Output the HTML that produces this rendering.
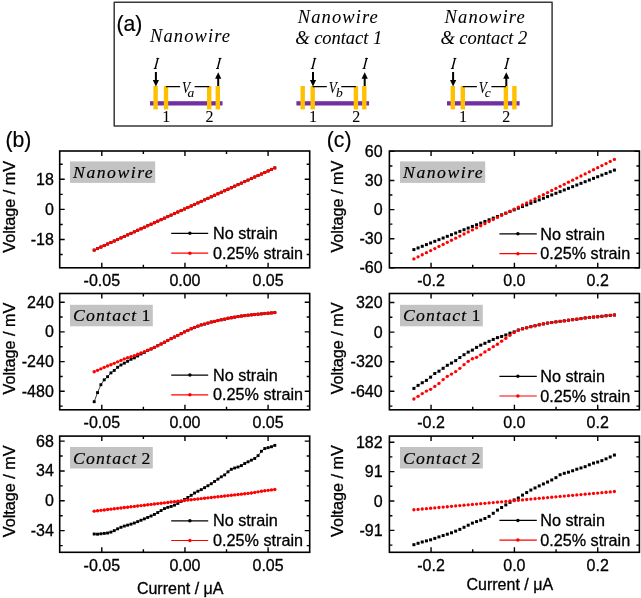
<!DOCTYPE html>
<html><head><meta charset="utf-8"><style>
html,body{margin:0;padding:0;background:#fff;}
body{width:641px;height:598px;overflow:hidden;}
svg{display:block;will-change:transform;}
text{fill:#000;stroke:#000;stroke-width:0.3px;}
text.d{stroke-width:0.05px;}
text.g{stroke-width:0.18px;}
</style></head><body>
<svg width="641" height="598" viewBox="0 0 641 598">
<rect width="641" height="598" fill="#fff"/>
<rect x="114.2" y="2.3" width="437.9" height="123.8" fill="none" stroke="#383838" stroke-width="1.5" stroke-linejoin="round"/>
<text class="g" x="116.4" y="31.0" font-family='"Liberation Sans", sans-serif' font-size="21.2">(a)</text>
<rect x="150" y="101.2" width="72.5" height="4.3" fill="#7030a0"/>
<rect x="153.4" y="86" width="4.4" height="23.4" fill="#ffc000"/>
<rect x="163.8" y="86" width="4.4" height="23.4" fill="#ffc000"/>
<rect x="207.0" y="86" width="4.4" height="23.4" fill="#ffc000"/>
<rect x="215.6" y="86" width="4.4" height="23.4" fill="#ffc000"/>
<path d="M166.0,86.6H180.1M194.6,86.6H209.2" stroke="#000" stroke-width="1.2" fill="none"/>
<text class="d" transform="translate(182.00,93.0) scale(0.8,1)" font-family='"Liberation Serif", serif' font-style="italic" font-size="16.5">V</text>
<text class="d" x="187.60" y="96.6" font-family='"Liberation Serif", serif' font-style="italic" font-size="13.5">a</text>
<path d="M155.9,72V81" stroke="#000" stroke-width="2"/>
<path d="M152.8,79.9L159.0,79.9L155.9,86.4Z" fill="#000"/>
<path d="M218.2,86V77" stroke="#000" stroke-width="2"/>
<path d="M215.1,78.8L221.3,78.8L218.2,72.3Z" fill="#000"/>
<path d="M157.95,58.0L155.15,68.9" stroke="#000" stroke-width="1.45" fill="none"/>
<path d="M156.30,58.45H159.20M153.70,68.45H156.70" stroke="#000" stroke-width="0.9" fill="none"/>
<path d="M220.25,58.0L217.45,68.9" stroke="#000" stroke-width="1.45" fill="none"/>
<path d="M218.60,58.45H221.50M216.00,68.45H219.00" stroke="#000" stroke-width="0.9" fill="none"/>
<text class="d" x="166.3" y="122.3" text-anchor="middle" font-family='"Liberation Serif", serif' font-size="16">1</text>
<text class="d" x="209.5" y="122.3" text-anchor="middle" font-family='"Liberation Serif", serif' font-size="16">2</text>
<rect x="296.4" y="101.2" width="72.7" height="4.3" fill="#7030a0"/>
<rect x="300.5" y="86" width="4.4" height="23.4" fill="#ffc000"/>
<rect x="310.5" y="86" width="4.4" height="23.4" fill="#ffc000"/>
<rect x="353.7" y="86" width="4.4" height="23.4" fill="#ffc000"/>
<rect x="362.1" y="86" width="4.4" height="23.4" fill="#ffc000"/>
<path d="M312.7,86.6H326.8M341.3,86.6H355.9" stroke="#000" stroke-width="1.2" fill="none"/>
<text class="d" transform="translate(328.70,93.0) scale(0.8,1)" font-family='"Liberation Serif", serif' font-style="italic" font-size="16.5">V</text>
<text class="d" x="335.90" y="96.6" font-family='"Liberation Serif", serif' font-style="italic" font-size="13.5">b</text>
<path d="M313.0,72V81" stroke="#000" stroke-width="2"/>
<path d="M309.9,79.9L316.1,79.9L313.0,86.4Z" fill="#000"/>
<path d="M364.7,86V77" stroke="#000" stroke-width="2"/>
<path d="M361.6,78.8L367.8,78.8L364.7,72.3Z" fill="#000"/>
<path d="M315.05,58.0L312.25,68.9" stroke="#000" stroke-width="1.45" fill="none"/>
<path d="M313.40,58.45H316.30M310.80,68.45H313.80" stroke="#000" stroke-width="0.9" fill="none"/>
<path d="M366.75,58.0L363.95,68.9" stroke="#000" stroke-width="1.45" fill="none"/>
<path d="M365.10,58.45H368.00M362.50,68.45H365.50" stroke="#000" stroke-width="0.9" fill="none"/>
<text class="d" x="313.0" y="122.3" text-anchor="middle" font-family='"Liberation Serif", serif' font-size="16">1</text>
<text class="d" x="356.2" y="122.3" text-anchor="middle" font-family='"Liberation Serif", serif' font-size="16">2</text>
<rect x="447" y="101.2" width="72.6" height="4.3" fill="#7030a0"/>
<rect x="450.6" y="86" width="4.4" height="23.4" fill="#ffc000"/>
<rect x="460.6" y="86" width="4.4" height="23.4" fill="#ffc000"/>
<rect x="503.7" y="86" width="4.4" height="23.4" fill="#ffc000"/>
<rect x="512.2" y="86" width="4.4" height="23.4" fill="#ffc000"/>
<path d="M462.8,86.6H476.9M491.4,86.6H505.9" stroke="#000" stroke-width="1.2" fill="none"/>
<text class="d" transform="translate(478.75,93.0) scale(0.8,1)" font-family='"Liberation Serif", serif' font-style="italic" font-size="16.5">V</text>
<text class="d" x="484.75" y="96.6" font-family='"Liberation Serif", serif' font-style="italic" font-size="13.5">c</text>
<path d="M453.1,72V81" stroke="#000" stroke-width="2"/>
<path d="M450.0,79.9L456.2,79.9L453.1,86.4Z" fill="#000"/>
<path d="M506.3,86V77" stroke="#000" stroke-width="2"/>
<path d="M503.2,78.8L509.4,78.8L506.3,72.3Z" fill="#000"/>
<path d="M455.15,58.0L452.35,68.9" stroke="#000" stroke-width="1.45" fill="none"/>
<path d="M453.50,58.45H456.40M450.90,68.45H453.90" stroke="#000" stroke-width="0.9" fill="none"/>
<path d="M508.35,58.0L505.55,68.9" stroke="#000" stroke-width="1.45" fill="none"/>
<path d="M506.70,58.45H509.60M504.10,68.45H507.10" stroke="#000" stroke-width="0.9" fill="none"/>
<text class="d" x="463.1" y="122.3" text-anchor="middle" font-family='"Liberation Serif", serif' font-size="16">1</text>
<text class="d" x="506.2" y="122.3" text-anchor="middle" font-family='"Liberation Serif", serif' font-size="16">2</text>
<text class="d" x="150.0" y="41.5" text-anchor="start" font-family='"Liberation Serif", serif' font-style="italic" font-size="18.5" letter-spacing="1.1">Nanowire</text>
<text class="d" x="297.8" y="23.0" text-anchor="start" font-family='"Liberation Serif", serif' font-style="italic" font-size="18.5" letter-spacing="1.1">Nanowire</text>
<text class="d" x="295.3" y="44.1" text-anchor="start" font-family='"Liberation Serif", serif' font-style="italic" font-size="18.5" letter-spacing="-0.05">&amp; contact 1</text>
<text class="d" x="444.6" y="23.0" text-anchor="start" font-family='"Liberation Serif", serif' font-style="italic" font-size="18.5" letter-spacing="1.1">Nanowire</text>
<text class="d" x="440.4" y="44.1" text-anchor="start" font-family='"Liberation Serif", serif' font-style="italic" font-size="18.5" letter-spacing="-0.05">&amp; contact 2</text>
<text class="g" x="5.4" y="146.6" font-family='"Liberation Sans", sans-serif' font-size="21.2">(b)</text>
<text class="g" x="326.8" y="146.6" font-family='"Liberation Sans", sans-serif' font-size="21.2">(c)</text>
<text x="180.2" y="593.8" text-anchor="middle" font-family='"Liberation Sans", sans-serif' font-size="16">Current / μA</text>
<text x="509.8" y="590.4" text-anchor="middle" font-family='"Liberation Sans", sans-serif' font-size="16">Current / μA</text>
<rect x="70.0" y="161.4" width="85.2" height="21.5" fill="#c3c3c3"/>
<text class="g" x="73.1" y="178.2" font-family='"Liberation Serif", serif' font-style="italic" font-size="17.7" letter-spacing="1.5" fill="#000">Nanowire</text>
<polyline points="94.20,250.10 97.54,248.58 100.89,247.06 104.23,245.53 107.58,244.01 110.92,242.49 114.27,240.97 117.61,239.44 120.96,237.92 124.30,236.40 127.64,234.88 130.99,233.36 134.33,231.83 137.68,230.31 141.02,228.79 144.37,227.27 147.71,225.74 151.06,224.22 154.40,222.70 157.74,221.18 161.09,219.66 164.43,218.13 167.78,216.61 171.12,215.09 174.47,213.57 177.81,212.04 181.16,210.52 184.50,209.00 187.84,207.48 191.19,205.96 194.53,204.43 197.88,202.91 201.22,201.39 204.57,199.87 207.91,198.34 211.26,196.82 214.60,195.30 217.94,193.78 221.29,192.26 224.63,190.73 227.98,189.21 231.32,187.69 234.67,186.17 238.01,184.64 241.36,183.12 244.70,181.60 248.04,180.08 251.39,178.56 254.73,177.03 258.08,175.51 261.42,173.99 264.77,172.47 268.11,170.94 271.46,169.42 274.80,167.90" fill="none" stroke="#000" stroke-width="0.75"/>
<rect x="92.75" y="248.65" width="2.9" height="2.9" fill="#000"/>
<rect x="96.09" y="247.13" width="2.9" height="2.9" fill="#000"/>
<rect x="99.44" y="245.61" width="2.9" height="2.9" fill="#000"/>
<rect x="102.78" y="244.08" width="2.9" height="2.9" fill="#000"/>
<rect x="106.13" y="242.56" width="2.9" height="2.9" fill="#000"/>
<rect x="109.47" y="241.04" width="2.9" height="2.9" fill="#000"/>
<rect x="112.82" y="239.52" width="2.9" height="2.9" fill="#000"/>
<rect x="116.16" y="237.99" width="2.9" height="2.9" fill="#000"/>
<rect x="119.51" y="236.47" width="2.9" height="2.9" fill="#000"/>
<rect x="122.85" y="234.95" width="2.9" height="2.9" fill="#000"/>
<rect x="126.19" y="233.43" width="2.9" height="2.9" fill="#000"/>
<rect x="129.54" y="231.91" width="2.9" height="2.9" fill="#000"/>
<rect x="132.88" y="230.38" width="2.9" height="2.9" fill="#000"/>
<rect x="136.23" y="228.86" width="2.9" height="2.9" fill="#000"/>
<rect x="139.57" y="227.34" width="2.9" height="2.9" fill="#000"/>
<rect x="142.92" y="225.82" width="2.9" height="2.9" fill="#000"/>
<rect x="146.26" y="224.29" width="2.9" height="2.9" fill="#000"/>
<rect x="149.61" y="222.77" width="2.9" height="2.9" fill="#000"/>
<rect x="152.95" y="221.25" width="2.9" height="2.9" fill="#000"/>
<rect x="156.29" y="219.73" width="2.9" height="2.9" fill="#000"/>
<rect x="159.64" y="218.21" width="2.9" height="2.9" fill="#000"/>
<rect x="162.98" y="216.68" width="2.9" height="2.9" fill="#000"/>
<rect x="166.33" y="215.16" width="2.9" height="2.9" fill="#000"/>
<rect x="169.67" y="213.64" width="2.9" height="2.9" fill="#000"/>
<rect x="173.02" y="212.12" width="2.9" height="2.9" fill="#000"/>
<rect x="176.36" y="210.59" width="2.9" height="2.9" fill="#000"/>
<rect x="179.71" y="209.07" width="2.9" height="2.9" fill="#000"/>
<rect x="183.05" y="207.55" width="2.9" height="2.9" fill="#000"/>
<rect x="186.39" y="206.03" width="2.9" height="2.9" fill="#000"/>
<rect x="189.74" y="204.51" width="2.9" height="2.9" fill="#000"/>
<rect x="193.08" y="202.98" width="2.9" height="2.9" fill="#000"/>
<rect x="196.43" y="201.46" width="2.9" height="2.9" fill="#000"/>
<rect x="199.77" y="199.94" width="2.9" height="2.9" fill="#000"/>
<rect x="203.12" y="198.42" width="2.9" height="2.9" fill="#000"/>
<rect x="206.46" y="196.89" width="2.9" height="2.9" fill="#000"/>
<rect x="209.81" y="195.37" width="2.9" height="2.9" fill="#000"/>
<rect x="213.15" y="193.85" width="2.9" height="2.9" fill="#000"/>
<rect x="216.49" y="192.33" width="2.9" height="2.9" fill="#000"/>
<rect x="219.84" y="190.81" width="2.9" height="2.9" fill="#000"/>
<rect x="223.18" y="189.28" width="2.9" height="2.9" fill="#000"/>
<rect x="226.53" y="187.76" width="2.9" height="2.9" fill="#000"/>
<rect x="229.87" y="186.24" width="2.9" height="2.9" fill="#000"/>
<rect x="233.22" y="184.72" width="2.9" height="2.9" fill="#000"/>
<rect x="236.56" y="183.19" width="2.9" height="2.9" fill="#000"/>
<rect x="239.91" y="181.67" width="2.9" height="2.9" fill="#000"/>
<rect x="243.25" y="180.15" width="2.9" height="2.9" fill="#000"/>
<rect x="246.59" y="178.63" width="2.9" height="2.9" fill="#000"/>
<rect x="249.94" y="177.11" width="2.9" height="2.9" fill="#000"/>
<rect x="253.28" y="175.58" width="2.9" height="2.9" fill="#000"/>
<rect x="256.63" y="174.06" width="2.9" height="2.9" fill="#000"/>
<rect x="259.97" y="172.54" width="2.9" height="2.9" fill="#000"/>
<rect x="263.32" y="171.02" width="2.9" height="2.9" fill="#000"/>
<rect x="266.66" y="169.49" width="2.9" height="2.9" fill="#000"/>
<rect x="270.01" y="167.97" width="2.9" height="2.9" fill="#000"/>
<rect x="273.35" y="166.45" width="2.9" height="2.9" fill="#000"/>
<polyline points="94.20,250.10 97.54,248.58 100.89,247.06 104.23,245.53 107.58,244.01 110.92,242.49 114.27,240.97 117.61,239.44 120.96,237.92 124.30,236.40 127.64,234.88 130.99,233.36 134.33,231.83 137.68,230.31 141.02,228.79 144.37,227.27 147.71,225.74 151.06,224.22 154.40,222.70 157.74,221.18 161.09,219.66 164.43,218.13 167.78,216.61 171.12,215.09 174.47,213.57 177.81,212.04 181.16,210.52 184.50,209.00 187.84,207.48 191.19,205.96 194.53,204.43 197.88,202.91 201.22,201.39 204.57,199.87 207.91,198.34 211.26,196.82 214.60,195.30 217.94,193.78 221.29,192.26 224.63,190.73 227.98,189.21 231.32,187.69 234.67,186.17 238.01,184.64 241.36,183.12 244.70,181.60 248.04,180.08 251.39,178.56 254.73,177.03 258.08,175.51 261.42,173.99 264.77,172.47 268.11,170.94 271.46,169.42 274.80,167.90" fill="none" stroke="#f00" stroke-width="0.75"/>
<circle cx="94.20" cy="250.10" r="1.7" fill="#f00"/>
<circle cx="97.54" cy="248.58" r="1.7" fill="#f00"/>
<circle cx="100.89" cy="247.06" r="1.7" fill="#f00"/>
<circle cx="104.23" cy="245.53" r="1.7" fill="#f00"/>
<circle cx="107.58" cy="244.01" r="1.7" fill="#f00"/>
<circle cx="110.92" cy="242.49" r="1.7" fill="#f00"/>
<circle cx="114.27" cy="240.97" r="1.7" fill="#f00"/>
<circle cx="117.61" cy="239.44" r="1.7" fill="#f00"/>
<circle cx="120.96" cy="237.92" r="1.7" fill="#f00"/>
<circle cx="124.30" cy="236.40" r="1.7" fill="#f00"/>
<circle cx="127.64" cy="234.88" r="1.7" fill="#f00"/>
<circle cx="130.99" cy="233.36" r="1.7" fill="#f00"/>
<circle cx="134.33" cy="231.83" r="1.7" fill="#f00"/>
<circle cx="137.68" cy="230.31" r="1.7" fill="#f00"/>
<circle cx="141.02" cy="228.79" r="1.7" fill="#f00"/>
<circle cx="144.37" cy="227.27" r="1.7" fill="#f00"/>
<circle cx="147.71" cy="225.74" r="1.7" fill="#f00"/>
<circle cx="151.06" cy="224.22" r="1.7" fill="#f00"/>
<circle cx="154.40" cy="222.70" r="1.7" fill="#f00"/>
<circle cx="157.74" cy="221.18" r="1.7" fill="#f00"/>
<circle cx="161.09" cy="219.66" r="1.7" fill="#f00"/>
<circle cx="164.43" cy="218.13" r="1.7" fill="#f00"/>
<circle cx="167.78" cy="216.61" r="1.7" fill="#f00"/>
<circle cx="171.12" cy="215.09" r="1.7" fill="#f00"/>
<circle cx="174.47" cy="213.57" r="1.7" fill="#f00"/>
<circle cx="177.81" cy="212.04" r="1.7" fill="#f00"/>
<circle cx="181.16" cy="210.52" r="1.7" fill="#f00"/>
<circle cx="184.50" cy="209.00" r="1.7" fill="#f00"/>
<circle cx="187.84" cy="207.48" r="1.7" fill="#f00"/>
<circle cx="191.19" cy="205.96" r="1.7" fill="#f00"/>
<circle cx="194.53" cy="204.43" r="1.7" fill="#f00"/>
<circle cx="197.88" cy="202.91" r="1.7" fill="#f00"/>
<circle cx="201.22" cy="201.39" r="1.7" fill="#f00"/>
<circle cx="204.57" cy="199.87" r="1.7" fill="#f00"/>
<circle cx="207.91" cy="198.34" r="1.7" fill="#f00"/>
<circle cx="211.26" cy="196.82" r="1.7" fill="#f00"/>
<circle cx="214.60" cy="195.30" r="1.7" fill="#f00"/>
<circle cx="217.94" cy="193.78" r="1.7" fill="#f00"/>
<circle cx="221.29" cy="192.26" r="1.7" fill="#f00"/>
<circle cx="224.63" cy="190.73" r="1.7" fill="#f00"/>
<circle cx="227.98" cy="189.21" r="1.7" fill="#f00"/>
<circle cx="231.32" cy="187.69" r="1.7" fill="#f00"/>
<circle cx="234.67" cy="186.17" r="1.7" fill="#f00"/>
<circle cx="238.01" cy="184.64" r="1.7" fill="#f00"/>
<circle cx="241.36" cy="183.12" r="1.7" fill="#f00"/>
<circle cx="244.70" cy="181.60" r="1.7" fill="#f00"/>
<circle cx="248.04" cy="180.08" r="1.7" fill="#f00"/>
<circle cx="251.39" cy="178.56" r="1.7" fill="#f00"/>
<circle cx="254.73" cy="177.03" r="1.7" fill="#f00"/>
<circle cx="258.08" cy="175.51" r="1.7" fill="#f00"/>
<circle cx="261.42" cy="173.99" r="1.7" fill="#f00"/>
<circle cx="264.77" cy="172.47" r="1.7" fill="#f00"/>
<circle cx="268.11" cy="170.94" r="1.7" fill="#f00"/>
<circle cx="271.46" cy="169.42" r="1.7" fill="#f00"/>
<circle cx="274.80" cy="167.90" r="1.7" fill="#f00"/>
<line x1="171.2" y1="233.3" x2="208.2" y2="233.3" stroke="#000" stroke-width="1.2"/>
<circle cx="189.9" cy="233.3" r="1.75" fill="#000"/>
<text x="213.0" y="239.40" font-family='"Liberation Sans", sans-serif' font-size="16.2" fill="#000">No strain</text>
<line x1="171.2" y1="253.2" x2="208.2" y2="253.2" stroke="#f00" stroke-width="1.2"/>
<circle cx="189.9" cy="253.2" r="1.75" fill="#f00"/>
<text x="213.0" y="259.10" font-family='"Liberation Sans", sans-serif' font-size="16.2" fill="#000">0.25% strain</text>
<path d="M101.80,151.0v5M101.80,267.8v-5M184.95,151.0v5M184.95,267.8v-5M268.10,151.0v5M268.10,267.8v-5M143.38,151.0v3M143.38,267.8v-3M226.52,151.0v3M226.52,267.8v-3M59.7,239.50h5M309.7,239.50h-5M59.7,209.40h5M309.7,209.40h-5M59.7,179.30h5M309.7,179.30h-5M59.7,254.55h3M309.7,254.55h-3M59.7,224.45h3M309.7,224.45h-3M59.7,194.35h3M309.7,194.35h-3M59.7,164.25h3M309.7,164.25h-3" stroke="#000" stroke-width="1.4" fill="none"/>
<rect x="59.7" y="151.0" width="250.0" height="116.8" fill="none" stroke="#000" stroke-width="1.6"/>
<text x="101.80" y="286.2" text-anchor="middle" font-family='"Liberation Sans", sans-serif' font-size="16">-0.05</text>
<text x="184.95" y="286.2" text-anchor="middle" font-family='"Liberation Sans", sans-serif' font-size="16">0.00</text>
<text x="268.10" y="286.2" text-anchor="middle" font-family='"Liberation Sans", sans-serif' font-size="16">0.05</text>
<text x="53.8" y="245.00" text-anchor="end" font-family='"Liberation Sans", sans-serif' font-size="16">-18</text>
<text x="53.8" y="214.90" text-anchor="end" font-family='"Liberation Sans", sans-serif' font-size="16">0</text>
<text x="53.8" y="184.80" text-anchor="end" font-family='"Liberation Sans", sans-serif' font-size="16">18</text>
<text transform="translate(15.1,206.8) rotate(-90)" text-anchor="middle" font-family='"Liberation Sans", sans-serif' font-size="16.2">Voltage / mV</text>
<rect x="70.0" y="304.8" width="82.8" height="21.5" fill="#c3c3c3"/>
<text class="g" x="73.0" y="321.3" font-family='"Liberation Serif", serif' font-size="17.7" fill="#000"><tspan font-style="italic" letter-spacing="1.2">Contact</tspan><tspan dx="4.2">1</tspan></text>
<polyline points="94.20,401.70 97.54,392.60 100.89,384.70 104.23,379.83 107.58,376.70 110.92,372.90 114.27,370.41 117.61,367.28 120.96,364.99 124.30,363.16 127.64,361.30 130.99,359.29 134.33,357.87 137.68,355.98 141.02,354.01 144.37,352.36 147.71,350.41 151.06,348.96 154.40,347.35 157.74,345.73 161.09,343.98 164.43,342.23 167.78,340.44 171.12,338.64 174.47,337.04 177.81,335.44 181.16,333.67 184.50,331.90 187.84,330.38 191.19,328.77 194.53,327.55 197.88,326.17 201.22,324.89 204.57,324.11 207.91,323.10 211.26,321.99 214.60,321.38 217.94,320.57 221.29,319.78 224.63,319.19 227.98,318.31 231.32,317.73 234.67,317.16 238.01,316.59 241.36,316.05 244.70,315.65 248.04,315.25 251.39,314.86 254.73,314.53 258.08,314.20 261.42,313.87 264.77,313.55 268.11,313.23 271.46,312.92 274.80,312.60" fill="none" stroke="#000" stroke-width="0.75"/>
<rect x="92.75" y="400.25" width="2.9" height="2.9" fill="#000"/>
<rect x="96.09" y="391.15" width="2.9" height="2.9" fill="#000"/>
<rect x="99.44" y="383.25" width="2.9" height="2.9" fill="#000"/>
<rect x="102.78" y="378.38" width="2.9" height="2.9" fill="#000"/>
<rect x="106.13" y="375.25" width="2.9" height="2.9" fill="#000"/>
<rect x="109.47" y="371.45" width="2.9" height="2.9" fill="#000"/>
<rect x="112.82" y="368.96" width="2.9" height="2.9" fill="#000"/>
<rect x="116.16" y="365.83" width="2.9" height="2.9" fill="#000"/>
<rect x="119.51" y="363.54" width="2.9" height="2.9" fill="#000"/>
<rect x="122.85" y="361.71" width="2.9" height="2.9" fill="#000"/>
<rect x="126.19" y="359.85" width="2.9" height="2.9" fill="#000"/>
<rect x="129.54" y="357.84" width="2.9" height="2.9" fill="#000"/>
<rect x="132.88" y="356.42" width="2.9" height="2.9" fill="#000"/>
<rect x="136.23" y="354.53" width="2.9" height="2.9" fill="#000"/>
<rect x="139.57" y="352.56" width="2.9" height="2.9" fill="#000"/>
<rect x="142.92" y="350.91" width="2.9" height="2.9" fill="#000"/>
<rect x="146.26" y="348.96" width="2.9" height="2.9" fill="#000"/>
<rect x="149.61" y="347.51" width="2.9" height="2.9" fill="#000"/>
<rect x="152.95" y="345.90" width="2.9" height="2.9" fill="#000"/>
<rect x="156.29" y="344.28" width="2.9" height="2.9" fill="#000"/>
<rect x="159.64" y="342.53" width="2.9" height="2.9" fill="#000"/>
<rect x="162.98" y="340.78" width="2.9" height="2.9" fill="#000"/>
<rect x="166.33" y="338.99" width="2.9" height="2.9" fill="#000"/>
<rect x="169.67" y="337.19" width="2.9" height="2.9" fill="#000"/>
<rect x="173.02" y="335.59" width="2.9" height="2.9" fill="#000"/>
<rect x="176.36" y="333.99" width="2.9" height="2.9" fill="#000"/>
<rect x="179.71" y="332.22" width="2.9" height="2.9" fill="#000"/>
<rect x="183.05" y="330.45" width="2.9" height="2.9" fill="#000"/>
<rect x="186.39" y="328.93" width="2.9" height="2.9" fill="#000"/>
<rect x="189.74" y="327.32" width="2.9" height="2.9" fill="#000"/>
<rect x="193.08" y="326.10" width="2.9" height="2.9" fill="#000"/>
<rect x="196.43" y="324.72" width="2.9" height="2.9" fill="#000"/>
<rect x="199.77" y="323.44" width="2.9" height="2.9" fill="#000"/>
<rect x="203.12" y="322.66" width="2.9" height="2.9" fill="#000"/>
<rect x="206.46" y="321.65" width="2.9" height="2.9" fill="#000"/>
<rect x="209.81" y="320.54" width="2.9" height="2.9" fill="#000"/>
<rect x="213.15" y="319.93" width="2.9" height="2.9" fill="#000"/>
<rect x="216.49" y="319.12" width="2.9" height="2.9" fill="#000"/>
<rect x="219.84" y="318.33" width="2.9" height="2.9" fill="#000"/>
<rect x="223.18" y="317.74" width="2.9" height="2.9" fill="#000"/>
<rect x="226.53" y="316.86" width="2.9" height="2.9" fill="#000"/>
<rect x="229.87" y="316.28" width="2.9" height="2.9" fill="#000"/>
<rect x="233.22" y="315.71" width="2.9" height="2.9" fill="#000"/>
<rect x="236.56" y="315.14" width="2.9" height="2.9" fill="#000"/>
<rect x="239.91" y="314.60" width="2.9" height="2.9" fill="#000"/>
<rect x="243.25" y="314.20" width="2.9" height="2.9" fill="#000"/>
<rect x="246.59" y="313.80" width="2.9" height="2.9" fill="#000"/>
<rect x="249.94" y="313.41" width="2.9" height="2.9" fill="#000"/>
<rect x="253.28" y="313.08" width="2.9" height="2.9" fill="#000"/>
<rect x="256.63" y="312.75" width="2.9" height="2.9" fill="#000"/>
<rect x="259.97" y="312.42" width="2.9" height="2.9" fill="#000"/>
<rect x="263.32" y="312.10" width="2.9" height="2.9" fill="#000"/>
<rect x="266.66" y="311.78" width="2.9" height="2.9" fill="#000"/>
<rect x="270.01" y="311.47" width="2.9" height="2.9" fill="#000"/>
<rect x="273.35" y="311.15" width="2.9" height="2.9" fill="#000"/>
<polyline points="94.20,371.80 97.54,370.35 100.89,368.86 104.23,367.37 107.58,366.02 110.92,364.68 114.27,363.33 117.61,361.87 120.96,360.38 124.30,358.90 127.64,357.82 130.99,356.74 134.33,355.65 137.68,354.31 141.02,352.98 144.37,351.65 147.71,350.31 151.06,348.96 154.40,347.35 157.74,345.73 161.09,343.98 164.43,342.23 167.78,340.44 171.12,338.64 174.47,337.04 177.81,335.44 181.16,333.67 184.50,331.90 187.84,330.38 191.19,328.77 194.53,327.55 197.88,326.17 201.22,324.89 204.57,324.11 207.91,323.10 211.26,321.99 214.60,321.38 217.94,320.57 221.29,319.78 224.63,319.19 227.98,318.31 231.32,317.73 234.67,317.16 238.01,316.59 241.36,316.05 244.70,315.65 248.04,315.25 251.39,314.86 254.73,314.53 258.08,314.20 261.42,313.87 264.77,313.55 268.11,313.23 271.46,312.92 274.80,312.60" fill="none" stroke="#f00" stroke-width="0.75"/>
<circle cx="94.20" cy="371.80" r="1.7" fill="#f00"/>
<circle cx="97.54" cy="370.35" r="1.7" fill="#f00"/>
<circle cx="100.89" cy="368.86" r="1.7" fill="#f00"/>
<circle cx="104.23" cy="367.37" r="1.7" fill="#f00"/>
<circle cx="107.58" cy="366.02" r="1.7" fill="#f00"/>
<circle cx="110.92" cy="364.68" r="1.7" fill="#f00"/>
<circle cx="114.27" cy="363.33" r="1.7" fill="#f00"/>
<circle cx="117.61" cy="361.87" r="1.7" fill="#f00"/>
<circle cx="120.96" cy="360.38" r="1.7" fill="#f00"/>
<circle cx="124.30" cy="358.90" r="1.7" fill="#f00"/>
<circle cx="127.64" cy="357.82" r="1.7" fill="#f00"/>
<circle cx="130.99" cy="356.74" r="1.7" fill="#f00"/>
<circle cx="134.33" cy="355.65" r="1.7" fill="#f00"/>
<circle cx="137.68" cy="354.31" r="1.7" fill="#f00"/>
<circle cx="141.02" cy="352.98" r="1.7" fill="#f00"/>
<circle cx="144.37" cy="351.65" r="1.7" fill="#f00"/>
<circle cx="147.71" cy="350.31" r="1.7" fill="#f00"/>
<circle cx="151.06" cy="348.96" r="1.7" fill="#f00"/>
<circle cx="154.40" cy="347.35" r="1.7" fill="#f00"/>
<circle cx="157.74" cy="345.73" r="1.7" fill="#f00"/>
<circle cx="161.09" cy="343.98" r="1.7" fill="#f00"/>
<circle cx="164.43" cy="342.23" r="1.7" fill="#f00"/>
<circle cx="167.78" cy="340.44" r="1.7" fill="#f00"/>
<circle cx="171.12" cy="338.64" r="1.7" fill="#f00"/>
<circle cx="174.47" cy="337.04" r="1.7" fill="#f00"/>
<circle cx="177.81" cy="335.44" r="1.7" fill="#f00"/>
<circle cx="181.16" cy="333.67" r="1.7" fill="#f00"/>
<circle cx="184.50" cy="331.90" r="1.7" fill="#f00"/>
<circle cx="187.84" cy="330.38" r="1.7" fill="#f00"/>
<circle cx="191.19" cy="328.77" r="1.7" fill="#f00"/>
<circle cx="194.53" cy="327.55" r="1.7" fill="#f00"/>
<circle cx="197.88" cy="326.17" r="1.7" fill="#f00"/>
<circle cx="201.22" cy="324.89" r="1.7" fill="#f00"/>
<circle cx="204.57" cy="324.11" r="1.7" fill="#f00"/>
<circle cx="207.91" cy="323.10" r="1.7" fill="#f00"/>
<circle cx="211.26" cy="321.99" r="1.7" fill="#f00"/>
<circle cx="214.60" cy="321.38" r="1.7" fill="#f00"/>
<circle cx="217.94" cy="320.57" r="1.7" fill="#f00"/>
<circle cx="221.29" cy="319.78" r="1.7" fill="#f00"/>
<circle cx="224.63" cy="319.19" r="1.7" fill="#f00"/>
<circle cx="227.98" cy="318.31" r="1.7" fill="#f00"/>
<circle cx="231.32" cy="317.73" r="1.7" fill="#f00"/>
<circle cx="234.67" cy="317.16" r="1.7" fill="#f00"/>
<circle cx="238.01" cy="316.59" r="1.7" fill="#f00"/>
<circle cx="241.36" cy="316.05" r="1.7" fill="#f00"/>
<circle cx="244.70" cy="315.65" r="1.7" fill="#f00"/>
<circle cx="248.04" cy="315.25" r="1.7" fill="#f00"/>
<circle cx="251.39" cy="314.86" r="1.7" fill="#f00"/>
<circle cx="254.73" cy="314.53" r="1.7" fill="#f00"/>
<circle cx="258.08" cy="314.20" r="1.7" fill="#f00"/>
<circle cx="261.42" cy="313.87" r="1.7" fill="#f00"/>
<circle cx="264.77" cy="313.55" r="1.7" fill="#f00"/>
<circle cx="268.11" cy="313.23" r="1.7" fill="#f00"/>
<circle cx="271.46" cy="312.92" r="1.7" fill="#f00"/>
<circle cx="274.80" cy="312.60" r="1.7" fill="#f00"/>
<line x1="171.2" y1="375.1" x2="208.2" y2="375.1" stroke="#000" stroke-width="1.2"/>
<circle cx="189.9" cy="375.1" r="1.75" fill="#000"/>
<text x="213.0" y="380.50" font-family='"Liberation Sans", sans-serif' font-size="16.2" fill="#000">No strain</text>
<line x1="171.2" y1="394.8" x2="208.2" y2="394.8" stroke="#f00" stroke-width="1.2"/>
<circle cx="189.9" cy="394.8" r="1.75" fill="#f00"/>
<text x="213.0" y="400.40" font-family='"Liberation Sans", sans-serif' font-size="16.2" fill="#000">0.25% strain</text>
<path d="M101.80,293.5v5M101.80,409.8v-5M184.95,293.5v5M184.95,409.8v-5M268.10,293.5v5M268.10,409.8v-5M143.38,293.5v3M143.38,409.8v-3M226.52,293.5v3M226.52,409.8v-3M59.7,391.30h5M309.7,391.30h-5M59.7,361.60h5M309.7,361.60h-5M59.7,331.90h5M309.7,331.90h-5M59.7,302.20h5M309.7,302.20h-5M59.7,406.15h3M309.7,406.15h-3M59.7,376.45h3M309.7,376.45h-3M59.7,346.75h3M309.7,346.75h-3M59.7,317.05h3M309.7,317.05h-3" stroke="#000" stroke-width="1.4" fill="none"/>
<rect x="59.7" y="293.5" width="250.0" height="116.3" fill="none" stroke="#000" stroke-width="1.6"/>
<text x="101.80" y="428.2" text-anchor="middle" font-family='"Liberation Sans", sans-serif' font-size="16">-0.05</text>
<text x="184.95" y="428.2" text-anchor="middle" font-family='"Liberation Sans", sans-serif' font-size="16">0.00</text>
<text x="268.10" y="428.2" text-anchor="middle" font-family='"Liberation Sans", sans-serif' font-size="16">0.05</text>
<text x="53.8" y="396.80" text-anchor="end" font-family='"Liberation Sans", sans-serif' font-size="16">-480</text>
<text x="53.8" y="367.10" text-anchor="end" font-family='"Liberation Sans", sans-serif' font-size="16">-240</text>
<text x="53.8" y="337.40" text-anchor="end" font-family='"Liberation Sans", sans-serif' font-size="16">0</text>
<text x="53.8" y="307.70" text-anchor="end" font-family='"Liberation Sans", sans-serif' font-size="16">240</text>
<text transform="translate(15.1,348.6) rotate(-90)" text-anchor="middle" font-family='"Liberation Sans", sans-serif' font-size="16.2">Voltage / mV</text>
<rect x="70.0" y="447.0" width="82.8" height="21.5" fill="#c3c3c3"/>
<text class="g" x="73.0" y="463.5" font-family='"Liberation Serif", serif' font-size="17.7" fill="#000"><tspan font-style="italic" letter-spacing="1.2">Contact</tspan><tspan dx="4.2">2</tspan></text>
<polyline points="94.20,534.01 97.54,534.18 100.89,533.78 104.23,533.40 107.58,533.03 110.92,532.10 114.27,530.62 117.61,528.84 120.96,527.30 124.30,526.07 127.64,525.14 130.99,524.14 134.33,523.02 137.68,521.64 141.02,520.24 144.37,518.86 147.71,517.45 151.06,516.00 154.40,514.42 157.74,512.54 161.09,510.55 164.43,508.59 167.78,507.36 171.12,506.47 174.47,505.16 177.81,503.42 181.16,501.37 184.50,499.47 187.84,497.47 191.19,495.33 194.53,493.03 197.88,491.25 201.22,489.64 204.57,487.69 207.91,485.73 211.26,483.71 214.60,481.44 217.94,479.13 221.29,476.83 224.63,474.89 227.98,471.84 231.32,469.29 234.67,468.01 238.01,467.00 241.36,465.60 244.70,463.49 248.04,461.82 251.39,460.16 254.73,458.48 258.08,455.65 261.42,451.28 264.77,448.51 268.11,447.67 271.46,446.74 274.80,445.38" fill="none" stroke="#000" stroke-width="0.75"/>
<rect x="92.75" y="532.56" width="2.9" height="2.9" fill="#000"/>
<rect x="96.09" y="532.73" width="2.9" height="2.9" fill="#000"/>
<rect x="99.44" y="532.33" width="2.9" height="2.9" fill="#000"/>
<rect x="102.78" y="531.95" width="2.9" height="2.9" fill="#000"/>
<rect x="106.13" y="531.58" width="2.9" height="2.9" fill="#000"/>
<rect x="109.47" y="530.65" width="2.9" height="2.9" fill="#000"/>
<rect x="112.82" y="529.17" width="2.9" height="2.9" fill="#000"/>
<rect x="116.16" y="527.39" width="2.9" height="2.9" fill="#000"/>
<rect x="119.51" y="525.85" width="2.9" height="2.9" fill="#000"/>
<rect x="122.85" y="524.62" width="2.9" height="2.9" fill="#000"/>
<rect x="126.19" y="523.69" width="2.9" height="2.9" fill="#000"/>
<rect x="129.54" y="522.69" width="2.9" height="2.9" fill="#000"/>
<rect x="132.88" y="521.57" width="2.9" height="2.9" fill="#000"/>
<rect x="136.23" y="520.19" width="2.9" height="2.9" fill="#000"/>
<rect x="139.57" y="518.79" width="2.9" height="2.9" fill="#000"/>
<rect x="142.92" y="517.41" width="2.9" height="2.9" fill="#000"/>
<rect x="146.26" y="516.00" width="2.9" height="2.9" fill="#000"/>
<rect x="149.61" y="514.55" width="2.9" height="2.9" fill="#000"/>
<rect x="152.95" y="512.97" width="2.9" height="2.9" fill="#000"/>
<rect x="156.29" y="511.09" width="2.9" height="2.9" fill="#000"/>
<rect x="159.64" y="509.10" width="2.9" height="2.9" fill="#000"/>
<rect x="162.98" y="507.14" width="2.9" height="2.9" fill="#000"/>
<rect x="166.33" y="505.91" width="2.9" height="2.9" fill="#000"/>
<rect x="169.67" y="505.02" width="2.9" height="2.9" fill="#000"/>
<rect x="173.02" y="503.71" width="2.9" height="2.9" fill="#000"/>
<rect x="176.36" y="501.97" width="2.9" height="2.9" fill="#000"/>
<rect x="179.71" y="499.92" width="2.9" height="2.9" fill="#000"/>
<rect x="183.05" y="498.02" width="2.9" height="2.9" fill="#000"/>
<rect x="186.39" y="496.02" width="2.9" height="2.9" fill="#000"/>
<rect x="189.74" y="493.88" width="2.9" height="2.9" fill="#000"/>
<rect x="193.08" y="491.58" width="2.9" height="2.9" fill="#000"/>
<rect x="196.43" y="489.80" width="2.9" height="2.9" fill="#000"/>
<rect x="199.77" y="488.19" width="2.9" height="2.9" fill="#000"/>
<rect x="203.12" y="486.24" width="2.9" height="2.9" fill="#000"/>
<rect x="206.46" y="484.28" width="2.9" height="2.9" fill="#000"/>
<rect x="209.81" y="482.26" width="2.9" height="2.9" fill="#000"/>
<rect x="213.15" y="479.99" width="2.9" height="2.9" fill="#000"/>
<rect x="216.49" y="477.68" width="2.9" height="2.9" fill="#000"/>
<rect x="219.84" y="475.38" width="2.9" height="2.9" fill="#000"/>
<rect x="223.18" y="473.44" width="2.9" height="2.9" fill="#000"/>
<rect x="226.53" y="470.39" width="2.9" height="2.9" fill="#000"/>
<rect x="229.87" y="467.84" width="2.9" height="2.9" fill="#000"/>
<rect x="233.22" y="466.56" width="2.9" height="2.9" fill="#000"/>
<rect x="236.56" y="465.55" width="2.9" height="2.9" fill="#000"/>
<rect x="239.91" y="464.15" width="2.9" height="2.9" fill="#000"/>
<rect x="243.25" y="462.04" width="2.9" height="2.9" fill="#000"/>
<rect x="246.59" y="460.37" width="2.9" height="2.9" fill="#000"/>
<rect x="249.94" y="458.71" width="2.9" height="2.9" fill="#000"/>
<rect x="253.28" y="457.03" width="2.9" height="2.9" fill="#000"/>
<rect x="256.63" y="454.20" width="2.9" height="2.9" fill="#000"/>
<rect x="259.97" y="449.83" width="2.9" height="2.9" fill="#000"/>
<rect x="263.32" y="447.06" width="2.9" height="2.9" fill="#000"/>
<rect x="266.66" y="446.22" width="2.9" height="2.9" fill="#000"/>
<rect x="270.01" y="445.29" width="2.9" height="2.9" fill="#000"/>
<rect x="273.35" y="443.93" width="2.9" height="2.9" fill="#000"/>
<polyline points="94.20,511.13 97.54,510.73 100.89,510.34 104.23,509.94 107.58,509.55 110.92,509.15 114.27,508.76 117.61,508.36 120.96,507.97 124.30,507.57 127.64,507.18 130.99,506.78 134.33,506.39 137.68,505.99 141.02,505.60 144.37,505.20 147.71,504.81 151.06,504.41 154.40,504.02 157.74,503.62 161.09,503.23 164.43,502.83 167.78,502.44 171.12,502.04 174.47,501.64 177.81,501.25 181.16,500.85 184.50,500.46 187.84,500.08 191.19,499.71 194.53,499.34 197.88,498.97 201.22,498.60 204.57,498.23 207.91,497.86 211.26,497.49 214.60,497.12 217.94,496.75 221.29,496.38 224.63,496.01 227.98,495.64 231.32,495.27 234.67,494.90 238.01,494.53 241.36,494.16 244.70,493.79 248.04,493.42 251.39,492.97 254.73,492.42 258.08,491.87 261.42,491.32 264.77,490.80 268.11,490.34 271.46,489.88 274.80,489.43" fill="none" stroke="#f00" stroke-width="0.75"/>
<circle cx="94.20" cy="511.13" r="1.7" fill="#f00"/>
<circle cx="97.54" cy="510.73" r="1.7" fill="#f00"/>
<circle cx="100.89" cy="510.34" r="1.7" fill="#f00"/>
<circle cx="104.23" cy="509.94" r="1.7" fill="#f00"/>
<circle cx="107.58" cy="509.55" r="1.7" fill="#f00"/>
<circle cx="110.92" cy="509.15" r="1.7" fill="#f00"/>
<circle cx="114.27" cy="508.76" r="1.7" fill="#f00"/>
<circle cx="117.61" cy="508.36" r="1.7" fill="#f00"/>
<circle cx="120.96" cy="507.97" r="1.7" fill="#f00"/>
<circle cx="124.30" cy="507.57" r="1.7" fill="#f00"/>
<circle cx="127.64" cy="507.18" r="1.7" fill="#f00"/>
<circle cx="130.99" cy="506.78" r="1.7" fill="#f00"/>
<circle cx="134.33" cy="506.39" r="1.7" fill="#f00"/>
<circle cx="137.68" cy="505.99" r="1.7" fill="#f00"/>
<circle cx="141.02" cy="505.60" r="1.7" fill="#f00"/>
<circle cx="144.37" cy="505.20" r="1.7" fill="#f00"/>
<circle cx="147.71" cy="504.81" r="1.7" fill="#f00"/>
<circle cx="151.06" cy="504.41" r="1.7" fill="#f00"/>
<circle cx="154.40" cy="504.02" r="1.7" fill="#f00"/>
<circle cx="157.74" cy="503.62" r="1.7" fill="#f00"/>
<circle cx="161.09" cy="503.23" r="1.7" fill="#f00"/>
<circle cx="164.43" cy="502.83" r="1.7" fill="#f00"/>
<circle cx="167.78" cy="502.44" r="1.7" fill="#f00"/>
<circle cx="171.12" cy="502.04" r="1.7" fill="#f00"/>
<circle cx="174.47" cy="501.64" r="1.7" fill="#f00"/>
<circle cx="177.81" cy="501.25" r="1.7" fill="#f00"/>
<circle cx="181.16" cy="500.85" r="1.7" fill="#f00"/>
<circle cx="184.50" cy="500.46" r="1.7" fill="#f00"/>
<circle cx="187.84" cy="500.08" r="1.7" fill="#f00"/>
<circle cx="191.19" cy="499.71" r="1.7" fill="#f00"/>
<circle cx="194.53" cy="499.34" r="1.7" fill="#f00"/>
<circle cx="197.88" cy="498.97" r="1.7" fill="#f00"/>
<circle cx="201.22" cy="498.60" r="1.7" fill="#f00"/>
<circle cx="204.57" cy="498.23" r="1.7" fill="#f00"/>
<circle cx="207.91" cy="497.86" r="1.7" fill="#f00"/>
<circle cx="211.26" cy="497.49" r="1.7" fill="#f00"/>
<circle cx="214.60" cy="497.12" r="1.7" fill="#f00"/>
<circle cx="217.94" cy="496.75" r="1.7" fill="#f00"/>
<circle cx="221.29" cy="496.38" r="1.7" fill="#f00"/>
<circle cx="224.63" cy="496.01" r="1.7" fill="#f00"/>
<circle cx="227.98" cy="495.64" r="1.7" fill="#f00"/>
<circle cx="231.32" cy="495.27" r="1.7" fill="#f00"/>
<circle cx="234.67" cy="494.90" r="1.7" fill="#f00"/>
<circle cx="238.01" cy="494.53" r="1.7" fill="#f00"/>
<circle cx="241.36" cy="494.16" r="1.7" fill="#f00"/>
<circle cx="244.70" cy="493.79" r="1.7" fill="#f00"/>
<circle cx="248.04" cy="493.42" r="1.7" fill="#f00"/>
<circle cx="251.39" cy="492.97" r="1.7" fill="#f00"/>
<circle cx="254.73" cy="492.42" r="1.7" fill="#f00"/>
<circle cx="258.08" cy="491.87" r="1.7" fill="#f00"/>
<circle cx="261.42" cy="491.32" r="1.7" fill="#f00"/>
<circle cx="264.77" cy="490.80" r="1.7" fill="#f00"/>
<circle cx="268.11" cy="490.34" r="1.7" fill="#f00"/>
<circle cx="271.46" cy="489.88" r="1.7" fill="#f00"/>
<circle cx="274.80" cy="489.43" r="1.7" fill="#f00"/>
<line x1="171.2" y1="520.8" x2="208.2" y2="520.8" stroke="#000" stroke-width="1.2"/>
<circle cx="189.9" cy="520.8" r="1.75" fill="#000"/>
<text x="213.0" y="526.40" font-family='"Liberation Sans", sans-serif' font-size="16.2" fill="#000">No strain</text>
<line x1="171.2" y1="540.5" x2="208.2" y2="540.5" stroke="#f00" stroke-width="1.2"/>
<circle cx="189.9" cy="540.5" r="1.75" fill="#f00"/>
<text x="213.0" y="546.10" font-family='"Liberation Sans", sans-serif' font-size="16.2" fill="#000">0.25% strain</text>
<path d="M101.80,436.1v5M101.80,552.3v-5M184.95,436.1v5M184.95,552.3v-5M268.10,436.1v5M268.10,552.3v-5M143.38,436.1v3M143.38,552.3v-3M226.52,436.1v3M226.52,552.3v-3M59.7,530.65h5M309.7,530.65h-5M59.7,500.80h5M309.7,500.80h-5M59.7,470.95h5M309.7,470.95h-5M59.7,441.10h5M309.7,441.10h-5M59.7,545.58h3M309.7,545.58h-3M59.7,515.73h3M309.7,515.73h-3M59.7,485.88h3M309.7,485.88h-3M59.7,456.03h3M309.7,456.03h-3" stroke="#000" stroke-width="1.4" fill="none"/>
<rect x="59.7" y="436.1" width="250.0" height="116.2" fill="none" stroke="#000" stroke-width="1.6"/>
<text x="101.80" y="571.0" text-anchor="middle" font-family='"Liberation Sans", sans-serif' font-size="16">-0.05</text>
<text x="184.95" y="571.0" text-anchor="middle" font-family='"Liberation Sans", sans-serif' font-size="16">0.00</text>
<text x="268.10" y="571.0" text-anchor="middle" font-family='"Liberation Sans", sans-serif' font-size="16">0.05</text>
<text x="53.8" y="536.15" text-anchor="end" font-family='"Liberation Sans", sans-serif' font-size="16">-34</text>
<text x="53.8" y="506.30" text-anchor="end" font-family='"Liberation Sans", sans-serif' font-size="16">0</text>
<text x="53.8" y="476.45" text-anchor="end" font-family='"Liberation Sans", sans-serif' font-size="16">34</text>
<text x="53.8" y="446.60" text-anchor="end" font-family='"Liberation Sans", sans-serif' font-size="16">68</text>
<text transform="translate(15.1,491.3) rotate(-90)" text-anchor="middle" font-family='"Liberation Sans", sans-serif' font-size="16.2">Voltage / mV</text>
<rect x="400.0" y="161.4" width="85.2" height="21.5" fill="#c3c3c3"/>
<text class="g" x="403.1" y="178.2" font-family='"Liberation Serif", serif' font-style="italic" font-size="17.7" letter-spacing="1.5" fill="#000">Nanowire</text>
<rect x="412.40" y="248.10" width="3" height="3" fill="#000"/>
<rect x="416.58" y="246.44" width="3" height="3" fill="#000"/>
<rect x="420.75" y="244.79" width="3" height="3" fill="#000"/>
<rect x="424.93" y="243.13" width="3" height="3" fill="#000"/>
<rect x="429.11" y="241.47" width="3" height="3" fill="#000"/>
<rect x="433.29" y="239.82" width="3" height="3" fill="#000"/>
<rect x="437.46" y="238.16" width="3" height="3" fill="#000"/>
<rect x="441.64" y="236.51" width="3" height="3" fill="#000"/>
<rect x="445.82" y="234.85" width="3" height="3" fill="#000"/>
<rect x="449.99" y="233.19" width="3" height="3" fill="#000"/>
<rect x="454.17" y="231.54" width="3" height="3" fill="#000"/>
<rect x="458.35" y="229.88" width="3" height="3" fill="#000"/>
<rect x="462.52" y="228.22" width="3" height="3" fill="#000"/>
<rect x="466.70" y="226.57" width="3" height="3" fill="#000"/>
<rect x="470.88" y="224.91" width="3" height="3" fill="#000"/>
<rect x="475.06" y="223.26" width="3" height="3" fill="#000"/>
<rect x="479.23" y="221.60" width="3" height="3" fill="#000"/>
<rect x="483.41" y="219.94" width="3" height="3" fill="#000"/>
<rect x="487.59" y="218.29" width="3" height="3" fill="#000"/>
<rect x="491.76" y="216.63" width="3" height="3" fill="#000"/>
<rect x="495.94" y="214.98" width="3" height="3" fill="#000"/>
<rect x="500.12" y="213.32" width="3" height="3" fill="#000"/>
<rect x="504.30" y="211.66" width="3" height="3" fill="#000"/>
<rect x="508.47" y="210.01" width="3" height="3" fill="#000"/>
<rect x="512.65" y="208.35" width="3" height="3" fill="#000"/>
<rect x="516.83" y="206.69" width="3" height="3" fill="#000"/>
<rect x="521.00" y="205.04" width="3" height="3" fill="#000"/>
<rect x="525.18" y="203.38" width="3" height="3" fill="#000"/>
<rect x="529.36" y="201.72" width="3" height="3" fill="#000"/>
<rect x="533.54" y="200.07" width="3" height="3" fill="#000"/>
<rect x="537.71" y="198.41" width="3" height="3" fill="#000"/>
<rect x="541.89" y="196.76" width="3" height="3" fill="#000"/>
<rect x="546.07" y="195.10" width="3" height="3" fill="#000"/>
<rect x="550.24" y="193.44" width="3" height="3" fill="#000"/>
<rect x="554.42" y="191.79" width="3" height="3" fill="#000"/>
<rect x="558.60" y="190.13" width="3" height="3" fill="#000"/>
<rect x="562.77" y="188.47" width="3" height="3" fill="#000"/>
<rect x="566.95" y="186.82" width="3" height="3" fill="#000"/>
<rect x="571.13" y="185.16" width="3" height="3" fill="#000"/>
<rect x="575.31" y="183.51" width="3" height="3" fill="#000"/>
<rect x="579.48" y="181.85" width="3" height="3" fill="#000"/>
<rect x="583.66" y="180.19" width="3" height="3" fill="#000"/>
<rect x="587.84" y="178.54" width="3" height="3" fill="#000"/>
<rect x="592.01" y="176.88" width="3" height="3" fill="#000"/>
<rect x="596.19" y="175.23" width="3" height="3" fill="#000"/>
<rect x="600.37" y="173.57" width="3" height="3" fill="#000"/>
<rect x="604.55" y="171.91" width="3" height="3" fill="#000"/>
<rect x="608.72" y="170.26" width="3" height="3" fill="#000"/>
<rect x="612.90" y="168.60" width="3" height="3" fill="#000"/>
<circle cx="413.90" cy="258.90" r="1.65" fill="#f00"/>
<circle cx="418.08" cy="256.83" r="1.65" fill="#f00"/>
<circle cx="422.25" cy="254.75" r="1.65" fill="#f00"/>
<circle cx="426.43" cy="252.68" r="1.65" fill="#f00"/>
<circle cx="430.61" cy="250.61" r="1.65" fill="#f00"/>
<circle cx="434.79" cy="248.54" r="1.65" fill="#f00"/>
<circle cx="438.96" cy="246.46" r="1.65" fill="#f00"/>
<circle cx="443.14" cy="244.39" r="1.65" fill="#f00"/>
<circle cx="447.32" cy="242.32" r="1.65" fill="#f00"/>
<circle cx="451.49" cy="240.24" r="1.65" fill="#f00"/>
<circle cx="455.67" cy="238.17" r="1.65" fill="#f00"/>
<circle cx="459.85" cy="236.10" r="1.65" fill="#f00"/>
<circle cx="464.02" cy="234.02" r="1.65" fill="#f00"/>
<circle cx="468.20" cy="231.95" r="1.65" fill="#f00"/>
<circle cx="472.38" cy="229.88" r="1.65" fill="#f00"/>
<circle cx="476.56" cy="227.81" r="1.65" fill="#f00"/>
<circle cx="480.73" cy="225.73" r="1.65" fill="#f00"/>
<circle cx="484.91" cy="223.66" r="1.65" fill="#f00"/>
<circle cx="489.09" cy="221.59" r="1.65" fill="#f00"/>
<circle cx="493.26" cy="219.51" r="1.65" fill="#f00"/>
<circle cx="497.44" cy="217.44" r="1.65" fill="#f00"/>
<circle cx="501.62" cy="215.37" r="1.65" fill="#f00"/>
<circle cx="505.80" cy="213.30" r="1.65" fill="#f00"/>
<circle cx="509.97" cy="211.22" r="1.65" fill="#f00"/>
<circle cx="514.15" cy="209.15" r="1.65" fill="#f00"/>
<circle cx="518.33" cy="207.08" r="1.65" fill="#f00"/>
<circle cx="522.50" cy="205.00" r="1.65" fill="#f00"/>
<circle cx="526.68" cy="202.93" r="1.65" fill="#f00"/>
<circle cx="530.86" cy="200.86" r="1.65" fill="#f00"/>
<circle cx="535.04" cy="198.79" r="1.65" fill="#f00"/>
<circle cx="539.21" cy="196.71" r="1.65" fill="#f00"/>
<circle cx="543.39" cy="194.64" r="1.65" fill="#f00"/>
<circle cx="547.57" cy="192.57" r="1.65" fill="#f00"/>
<circle cx="551.74" cy="190.49" r="1.65" fill="#f00"/>
<circle cx="555.92" cy="188.42" r="1.65" fill="#f00"/>
<circle cx="560.10" cy="186.35" r="1.65" fill="#f00"/>
<circle cx="564.27" cy="184.28" r="1.65" fill="#f00"/>
<circle cx="568.45" cy="182.20" r="1.65" fill="#f00"/>
<circle cx="572.63" cy="180.13" r="1.65" fill="#f00"/>
<circle cx="576.81" cy="178.06" r="1.65" fill="#f00"/>
<circle cx="580.98" cy="175.98" r="1.65" fill="#f00"/>
<circle cx="585.16" cy="173.91" r="1.65" fill="#f00"/>
<circle cx="589.34" cy="171.84" r="1.65" fill="#f00"/>
<circle cx="593.51" cy="169.76" r="1.65" fill="#f00"/>
<circle cx="597.69" cy="167.69" r="1.65" fill="#f00"/>
<circle cx="601.87" cy="165.62" r="1.65" fill="#f00"/>
<circle cx="606.05" cy="163.55" r="1.65" fill="#f00"/>
<circle cx="610.22" cy="161.47" r="1.65" fill="#f00"/>
<circle cx="614.40" cy="159.40" r="1.65" fill="#f00"/>
<line x1="499.4" y1="233.8" x2="536.8" y2="233.8" stroke="#000" stroke-width="1.2"/>
<circle cx="517.9" cy="233.8" r="1.75" fill="#000"/>
<text x="540.2" y="239.85" font-family='"Liberation Sans", sans-serif' font-size="16.2" fill="#000">No strain</text>
<line x1="499.4" y1="253.7" x2="536.8" y2="253.7" stroke="#f00" stroke-width="1.2"/>
<circle cx="517.9" cy="253.7" r="1.75" fill="#f00"/>
<text x="540.2" y="259.05" font-family='"Liberation Sans", sans-serif' font-size="16.2" fill="#000">0.25% strain</text>
<path d="M431.06,151.0v5M431.06,267.8v-5M514.40,151.0v5M514.40,267.8v-5M597.74,151.0v5M597.74,267.8v-5M472.73,151.0v3M472.73,267.8v-3M556.07,151.0v3M556.07,267.8v-3M389.4,267.80h5M639.4,267.80h-5M389.4,238.70h5M639.4,238.70h-5M389.4,209.60h5M639.4,209.60h-5M389.4,180.50h5M639.4,180.50h-5M389.4,151.40h5M639.4,151.40h-5M389.4,253.25h3M639.4,253.25h-3M389.4,224.15h3M639.4,224.15h-3M389.4,195.05h3M639.4,195.05h-3M389.4,165.95h3M639.4,165.95h-3" stroke="#000" stroke-width="1.4" fill="none"/>
<rect x="389.4" y="151.0" width="250.0" height="116.8" fill="none" stroke="#000" stroke-width="1.6"/>
<text x="431.06" y="286.2" text-anchor="middle" font-family='"Liberation Sans", sans-serif' font-size="16">-0.2</text>
<text x="514.40" y="286.2" text-anchor="middle" font-family='"Liberation Sans", sans-serif' font-size="16">0.0</text>
<text x="597.74" y="286.2" text-anchor="middle" font-family='"Liberation Sans", sans-serif' font-size="16">0.2</text>
<text x="382.6" y="273.30" text-anchor="end" font-family='"Liberation Sans", sans-serif' font-size="16">-60</text>
<text x="382.6" y="244.20" text-anchor="end" font-family='"Liberation Sans", sans-serif' font-size="16">-30</text>
<text x="382.6" y="215.10" text-anchor="end" font-family='"Liberation Sans", sans-serif' font-size="16">0</text>
<text x="382.6" y="186.00" text-anchor="end" font-family='"Liberation Sans", sans-serif' font-size="16">30</text>
<text x="382.6" y="156.90" text-anchor="end" font-family='"Liberation Sans", sans-serif' font-size="16">60</text>
<text transform="translate(343.3,206.7) rotate(-90)" text-anchor="middle" font-family='"Liberation Sans", sans-serif' font-size="16.2">Voltage / mV</text>
<rect x="400.0" y="304.8" width="82.8" height="21.5" fill="#c3c3c3"/>
<text class="g" x="403.0" y="321.3" font-family='"Liberation Serif", serif' font-size="17.7" fill="#000"><tspan font-style="italic" letter-spacing="1.2">Contact</tspan><tspan dx="4.2">1</tspan></text>
<polyline points="413.90,388.40 418.08,385.39 422.25,382.75 426.43,380.39 430.61,377.13 434.79,373.50 438.96,371.18 443.14,368.27 447.32,365.29 451.49,363.05 455.67,360.62 459.85,357.54 464.02,354.72 468.20,352.12 472.38,350.11 476.56,347.39 480.73,345.14 484.91,343.28 489.09,341.35 493.26,339.47 497.44,337.63 501.62,336.42 505.80,334.96 509.97,333.15 514.15,331.85 518.33,330.02 522.50,328.81 526.68,327.82 530.86,326.68 535.04,325.74 539.21,324.77 543.39,323.92 547.57,323.05 551.74,322.53 555.92,321.86 560.10,321.36 564.27,320.87 568.45,320.22 572.63,319.70 576.81,319.22 580.98,318.58 585.16,317.95 589.34,317.45 593.51,317.05 597.69,316.75 601.87,316.30 606.05,315.73 610.22,315.34 614.40,315.00" fill="none" stroke="#000" stroke-width="0.7" opacity="0.5"/>
<polyline points="413.90,399.00 418.08,396.28 422.25,393.56 426.43,391.10 430.61,389.32 434.79,386.46 438.96,383.40 443.14,379.57 447.32,376.29 451.49,374.05 455.67,371.62 459.85,368.34 464.02,364.65 468.20,361.36 472.38,358.74 476.56,357.35 480.73,354.84 484.91,351.93 489.09,349.44 493.26,346.66 497.44,344.23 501.62,341.16 505.80,338.23 509.97,335.29 514.15,332.57 518.33,330.24 522.50,328.83 526.68,327.82 530.86,326.68 535.04,325.74 539.21,324.77 543.39,323.92 547.57,323.05 551.74,322.53 555.92,321.86 560.10,321.36 564.27,320.87 568.45,320.22 572.63,319.70 576.81,319.22 580.98,318.58 585.16,317.95 589.34,317.45 593.51,317.05 597.69,316.75 601.87,316.30 606.05,315.73 610.22,315.34 614.40,315.00" fill="none" stroke="#f00" stroke-width="0.7" opacity="0.5"/>
<rect x="412.40" y="386.90" width="3" height="3" fill="#000"/>
<rect x="416.58" y="383.89" width="3" height="3" fill="#000"/>
<rect x="420.75" y="381.25" width="3" height="3" fill="#000"/>
<rect x="424.93" y="378.89" width="3" height="3" fill="#000"/>
<rect x="429.11" y="375.63" width="3" height="3" fill="#000"/>
<rect x="433.29" y="372.00" width="3" height="3" fill="#000"/>
<rect x="437.46" y="369.68" width="3" height="3" fill="#000"/>
<rect x="441.64" y="366.77" width="3" height="3" fill="#000"/>
<rect x="445.82" y="363.79" width="3" height="3" fill="#000"/>
<rect x="449.99" y="361.55" width="3" height="3" fill="#000"/>
<rect x="454.17" y="359.12" width="3" height="3" fill="#000"/>
<rect x="458.35" y="356.04" width="3" height="3" fill="#000"/>
<rect x="462.52" y="353.22" width="3" height="3" fill="#000"/>
<rect x="466.70" y="350.62" width="3" height="3" fill="#000"/>
<rect x="470.88" y="348.61" width="3" height="3" fill="#000"/>
<rect x="475.06" y="345.89" width="3" height="3" fill="#000"/>
<rect x="479.23" y="343.64" width="3" height="3" fill="#000"/>
<rect x="483.41" y="341.78" width="3" height="3" fill="#000"/>
<rect x="487.59" y="339.85" width="3" height="3" fill="#000"/>
<rect x="491.76" y="337.97" width="3" height="3" fill="#000"/>
<rect x="495.94" y="336.13" width="3" height="3" fill="#000"/>
<rect x="500.12" y="334.92" width="3" height="3" fill="#000"/>
<rect x="504.30" y="333.46" width="3" height="3" fill="#000"/>
<rect x="508.47" y="331.65" width="3" height="3" fill="#000"/>
<rect x="512.65" y="330.35" width="3" height="3" fill="#000"/>
<rect x="516.83" y="328.52" width="3" height="3" fill="#000"/>
<rect x="521.00" y="327.31" width="3" height="3" fill="#000"/>
<rect x="525.18" y="326.32" width="3" height="3" fill="#000"/>
<rect x="529.36" y="325.18" width="3" height="3" fill="#000"/>
<rect x="533.54" y="324.24" width="3" height="3" fill="#000"/>
<rect x="537.71" y="323.27" width="3" height="3" fill="#000"/>
<rect x="541.89" y="322.42" width="3" height="3" fill="#000"/>
<rect x="546.07" y="321.55" width="3" height="3" fill="#000"/>
<rect x="550.24" y="321.03" width="3" height="3" fill="#000"/>
<rect x="554.42" y="320.36" width="3" height="3" fill="#000"/>
<rect x="558.60" y="319.86" width="3" height="3" fill="#000"/>
<rect x="562.77" y="319.37" width="3" height="3" fill="#000"/>
<rect x="566.95" y="318.72" width="3" height="3" fill="#000"/>
<rect x="571.13" y="318.20" width="3" height="3" fill="#000"/>
<rect x="575.31" y="317.72" width="3" height="3" fill="#000"/>
<rect x="579.48" y="317.08" width="3" height="3" fill="#000"/>
<rect x="583.66" y="316.45" width="3" height="3" fill="#000"/>
<rect x="587.84" y="315.95" width="3" height="3" fill="#000"/>
<rect x="592.01" y="315.55" width="3" height="3" fill="#000"/>
<rect x="596.19" y="315.25" width="3" height="3" fill="#000"/>
<rect x="600.37" y="314.80" width="3" height="3" fill="#000"/>
<rect x="604.55" y="314.23" width="3" height="3" fill="#000"/>
<rect x="608.72" y="313.84" width="3" height="3" fill="#000"/>
<rect x="612.90" y="313.50" width="3" height="3" fill="#000"/>
<circle cx="413.90" cy="399.00" r="1.65" fill="#f00"/>
<circle cx="418.08" cy="396.28" r="1.65" fill="#f00"/>
<circle cx="422.25" cy="393.56" r="1.65" fill="#f00"/>
<circle cx="426.43" cy="391.10" r="1.65" fill="#f00"/>
<circle cx="430.61" cy="389.32" r="1.65" fill="#f00"/>
<circle cx="434.79" cy="386.46" r="1.65" fill="#f00"/>
<circle cx="438.96" cy="383.40" r="1.65" fill="#f00"/>
<circle cx="443.14" cy="379.57" r="1.65" fill="#f00"/>
<circle cx="447.32" cy="376.29" r="1.65" fill="#f00"/>
<circle cx="451.49" cy="374.05" r="1.65" fill="#f00"/>
<circle cx="455.67" cy="371.62" r="1.65" fill="#f00"/>
<circle cx="459.85" cy="368.34" r="1.65" fill="#f00"/>
<circle cx="464.02" cy="364.65" r="1.65" fill="#f00"/>
<circle cx="468.20" cy="361.36" r="1.65" fill="#f00"/>
<circle cx="472.38" cy="358.74" r="1.65" fill="#f00"/>
<circle cx="476.56" cy="357.35" r="1.65" fill="#f00"/>
<circle cx="480.73" cy="354.84" r="1.65" fill="#f00"/>
<circle cx="484.91" cy="351.93" r="1.65" fill="#f00"/>
<circle cx="489.09" cy="349.44" r="1.65" fill="#f00"/>
<circle cx="493.26" cy="346.66" r="1.65" fill="#f00"/>
<circle cx="497.44" cy="344.23" r="1.65" fill="#f00"/>
<circle cx="501.62" cy="341.16" r="1.65" fill="#f00"/>
<circle cx="505.80" cy="338.23" r="1.65" fill="#f00"/>
<circle cx="509.97" cy="335.29" r="1.65" fill="#f00"/>
<circle cx="514.15" cy="332.57" r="1.65" fill="#f00"/>
<circle cx="518.33" cy="330.24" r="1.65" fill="#f00"/>
<circle cx="522.50" cy="328.83" r="1.65" fill="#f00"/>
<circle cx="526.68" cy="327.82" r="1.65" fill="#f00"/>
<circle cx="530.86" cy="326.68" r="1.65" fill="#f00"/>
<circle cx="535.04" cy="325.74" r="1.65" fill="#f00"/>
<circle cx="539.21" cy="324.77" r="1.65" fill="#f00"/>
<circle cx="543.39" cy="323.92" r="1.65" fill="#f00"/>
<circle cx="547.57" cy="323.05" r="1.65" fill="#f00"/>
<circle cx="551.74" cy="322.53" r="1.65" fill="#f00"/>
<circle cx="555.92" cy="321.86" r="1.65" fill="#f00"/>
<circle cx="560.10" cy="321.36" r="1.65" fill="#f00"/>
<circle cx="564.27" cy="320.87" r="1.65" fill="#f00"/>
<circle cx="568.45" cy="320.22" r="1.65" fill="#f00"/>
<circle cx="572.63" cy="319.70" r="1.65" fill="#f00"/>
<circle cx="576.81" cy="319.22" r="1.65" fill="#f00"/>
<circle cx="580.98" cy="318.58" r="1.65" fill="#f00"/>
<circle cx="585.16" cy="317.95" r="1.65" fill="#f00"/>
<circle cx="589.34" cy="317.45" r="1.65" fill="#f00"/>
<circle cx="593.51" cy="317.05" r="1.65" fill="#f00"/>
<circle cx="597.69" cy="316.75" r="1.65" fill="#f00"/>
<circle cx="601.87" cy="316.30" r="1.65" fill="#f00"/>
<circle cx="606.05" cy="315.73" r="1.65" fill="#f00"/>
<circle cx="610.22" cy="315.34" r="1.65" fill="#f00"/>
<circle cx="614.40" cy="315.00" r="1.65" fill="#f00"/>
<line x1="499.4" y1="376.3" x2="536.8" y2="376.3" stroke="#000" stroke-width="1.2"/>
<circle cx="517.9" cy="376.3" r="1.75" fill="#000"/>
<text x="540.2" y="382.05" font-family='"Liberation Sans", sans-serif' font-size="16.2" fill="#000">No strain</text>
<line x1="499.4" y1="396.0" x2="536.8" y2="396.0" stroke="#f00" stroke-width="1.2"/>
<circle cx="517.9" cy="396.0" r="1.75" fill="#f00"/>
<text x="540.2" y="401.75" font-family='"Liberation Sans", sans-serif' font-size="16.2" fill="#000">0.25% strain</text>
<path d="M431.06,293.5v5M431.06,409.8v-5M514.40,293.5v5M514.40,409.8v-5M597.74,293.5v5M597.74,409.8v-5M472.73,293.5v3M472.73,409.8v-3M556.07,293.5v3M556.07,409.8v-3M389.4,391.30h5M639.4,391.30h-5M389.4,361.70h5M639.4,361.70h-5M389.4,332.10h5M639.4,332.10h-5M389.4,302.50h5M639.4,302.50h-5M389.4,406.10h3M639.4,406.10h-3M389.4,376.50h3M639.4,376.50h-3M389.4,346.90h3M639.4,346.90h-3M389.4,317.30h3M639.4,317.30h-3" stroke="#000" stroke-width="1.4" fill="none"/>
<rect x="389.4" y="293.5" width="250.0" height="116.3" fill="none" stroke="#000" stroke-width="1.6"/>
<text x="431.06" y="428.2" text-anchor="middle" font-family='"Liberation Sans", sans-serif' font-size="16">-0.2</text>
<text x="514.40" y="428.2" text-anchor="middle" font-family='"Liberation Sans", sans-serif' font-size="16">0.0</text>
<text x="597.74" y="428.2" text-anchor="middle" font-family='"Liberation Sans", sans-serif' font-size="16">0.2</text>
<text x="382.6" y="396.80" text-anchor="end" font-family='"Liberation Sans", sans-serif' font-size="16">-640</text>
<text x="382.6" y="367.20" text-anchor="end" font-family='"Liberation Sans", sans-serif' font-size="16">-320</text>
<text x="382.6" y="337.60" text-anchor="end" font-family='"Liberation Sans", sans-serif' font-size="16">0</text>
<text x="382.6" y="308.00" text-anchor="end" font-family='"Liberation Sans", sans-serif' font-size="16">320</text>
<text transform="translate(343.3,348.4) rotate(-90)" text-anchor="middle" font-family='"Liberation Sans", sans-serif' font-size="16.2">Voltage / mV</text>
<rect x="400.0" y="447.0" width="82.8" height="21.5" fill="#c3c3c3"/>
<text class="g" x="403.0" y="463.5" font-family='"Liberation Serif", serif' font-size="17.7" fill="#000"><tspan font-style="italic" letter-spacing="1.2">Contact</tspan><tspan dx="4.2">2</tspan></text>
<rect x="412.40" y="543.20" width="3" height="3" fill="#000"/>
<rect x="416.58" y="541.79" width="3" height="3" fill="#000"/>
<rect x="420.75" y="540.48" width="3" height="3" fill="#000"/>
<rect x="424.93" y="539.40" width="3" height="3" fill="#000"/>
<rect x="429.11" y="538.33" width="3" height="3" fill="#000"/>
<rect x="433.29" y="536.89" width="3" height="3" fill="#000"/>
<rect x="437.46" y="535.40" width="3" height="3" fill="#000"/>
<rect x="441.64" y="534.04" width="3" height="3" fill="#000"/>
<rect x="445.82" y="532.71" width="3" height="3" fill="#000"/>
<rect x="449.99" y="531.28" width="3" height="3" fill="#000"/>
<rect x="454.17" y="529.61" width="3" height="3" fill="#000"/>
<rect x="458.35" y="527.88" width="3" height="3" fill="#000"/>
<rect x="462.52" y="525.79" width="3" height="3" fill="#000"/>
<rect x="466.70" y="523.70" width="3" height="3" fill="#000"/>
<rect x="470.88" y="521.61" width="3" height="3" fill="#000"/>
<rect x="475.06" y="520.07" width="3" height="3" fill="#000"/>
<rect x="479.23" y="518.66" width="3" height="3" fill="#000"/>
<rect x="483.41" y="516.99" width="3" height="3" fill="#000"/>
<rect x="487.59" y="514.91" width="3" height="3" fill="#000"/>
<rect x="491.76" y="511.78" width="3" height="3" fill="#000"/>
<rect x="495.94" y="508.61" width="3" height="3" fill="#000"/>
<rect x="500.12" y="506.00" width="3" height="3" fill="#000"/>
<rect x="504.30" y="503.39" width="3" height="3" fill="#000"/>
<rect x="508.47" y="500.82" width="3" height="3" fill="#000"/>
<rect x="512.65" y="498.41" width="3" height="3" fill="#000"/>
<rect x="516.83" y="496.52" width="3" height="3" fill="#000"/>
<rect x="521.00" y="493.61" width="3" height="3" fill="#000"/>
<rect x="525.18" y="491.05" width="3" height="3" fill="#000"/>
<rect x="529.36" y="488.57" width="3" height="3" fill="#000"/>
<rect x="533.54" y="486.45" width="3" height="3" fill="#000"/>
<rect x="537.71" y="484.39" width="3" height="3" fill="#000"/>
<rect x="541.89" y="482.45" width="3" height="3" fill="#000"/>
<rect x="546.07" y="480.52" width="3" height="3" fill="#000"/>
<rect x="550.24" y="478.46" width="3" height="3" fill="#000"/>
<rect x="554.42" y="476.14" width="3" height="3" fill="#000"/>
<rect x="558.60" y="473.23" width="3" height="3" fill="#000"/>
<rect x="562.77" y="471.81" width="3" height="3" fill="#000"/>
<rect x="566.95" y="470.69" width="3" height="3" fill="#000"/>
<rect x="571.13" y="469.28" width="3" height="3" fill="#000"/>
<rect x="575.31" y="467.72" width="3" height="3" fill="#000"/>
<rect x="579.48" y="466.45" width="3" height="3" fill="#000"/>
<rect x="583.66" y="465.18" width="3" height="3" fill="#000"/>
<rect x="587.84" y="463.29" width="3" height="3" fill="#000"/>
<rect x="592.01" y="461.62" width="3" height="3" fill="#000"/>
<rect x="596.19" y="460.56" width="3" height="3" fill="#000"/>
<rect x="600.37" y="459.15" width="3" height="3" fill="#000"/>
<rect x="604.55" y="457.34" width="3" height="3" fill="#000"/>
<rect x="608.72" y="455.46" width="3" height="3" fill="#000"/>
<rect x="612.90" y="453.55" width="3" height="3" fill="#000"/>
<circle cx="413.90" cy="509.77" r="1.65" fill="#f00"/>
<circle cx="418.08" cy="509.39" r="1.65" fill="#f00"/>
<circle cx="422.25" cy="509.01" r="1.65" fill="#f00"/>
<circle cx="426.43" cy="508.63" r="1.65" fill="#f00"/>
<circle cx="430.61" cy="508.25" r="1.65" fill="#f00"/>
<circle cx="434.79" cy="507.87" r="1.65" fill="#f00"/>
<circle cx="438.96" cy="507.49" r="1.65" fill="#f00"/>
<circle cx="443.14" cy="507.11" r="1.65" fill="#f00"/>
<circle cx="447.32" cy="506.73" r="1.65" fill="#f00"/>
<circle cx="451.49" cy="506.35" r="1.65" fill="#f00"/>
<circle cx="455.67" cy="505.97" r="1.65" fill="#f00"/>
<circle cx="459.85" cy="505.59" r="1.65" fill="#f00"/>
<circle cx="464.02" cy="505.21" r="1.65" fill="#f00"/>
<circle cx="468.20" cy="504.83" r="1.65" fill="#f00"/>
<circle cx="472.38" cy="504.45" r="1.65" fill="#f00"/>
<circle cx="476.56" cy="504.07" r="1.65" fill="#f00"/>
<circle cx="480.73" cy="503.68" r="1.65" fill="#f00"/>
<circle cx="484.91" cy="503.30" r="1.65" fill="#f00"/>
<circle cx="489.09" cy="502.92" r="1.65" fill="#f00"/>
<circle cx="493.26" cy="502.54" r="1.65" fill="#f00"/>
<circle cx="497.44" cy="502.16" r="1.65" fill="#f00"/>
<circle cx="501.62" cy="501.78" r="1.65" fill="#f00"/>
<circle cx="505.80" cy="501.40" r="1.65" fill="#f00"/>
<circle cx="509.97" cy="501.02" r="1.65" fill="#f00"/>
<circle cx="514.15" cy="500.64" r="1.65" fill="#f00"/>
<circle cx="518.33" cy="500.26" r="1.65" fill="#f00"/>
<circle cx="522.50" cy="499.88" r="1.65" fill="#f00"/>
<circle cx="526.68" cy="499.50" r="1.65" fill="#f00"/>
<circle cx="530.86" cy="499.12" r="1.65" fill="#f00"/>
<circle cx="535.04" cy="498.74" r="1.65" fill="#f00"/>
<circle cx="539.21" cy="498.36" r="1.65" fill="#f00"/>
<circle cx="543.39" cy="497.98" r="1.65" fill="#f00"/>
<circle cx="547.57" cy="497.60" r="1.65" fill="#f00"/>
<circle cx="551.74" cy="497.22" r="1.65" fill="#f00"/>
<circle cx="555.92" cy="496.84" r="1.65" fill="#f00"/>
<circle cx="560.10" cy="496.46" r="1.65" fill="#f00"/>
<circle cx="564.27" cy="496.07" r="1.65" fill="#f00"/>
<circle cx="568.45" cy="495.69" r="1.65" fill="#f00"/>
<circle cx="572.63" cy="495.31" r="1.65" fill="#f00"/>
<circle cx="576.81" cy="494.93" r="1.65" fill="#f00"/>
<circle cx="580.98" cy="494.55" r="1.65" fill="#f00"/>
<circle cx="585.16" cy="494.17" r="1.65" fill="#f00"/>
<circle cx="589.34" cy="493.79" r="1.65" fill="#f00"/>
<circle cx="593.51" cy="493.41" r="1.65" fill="#f00"/>
<circle cx="597.69" cy="493.03" r="1.65" fill="#f00"/>
<circle cx="601.87" cy="492.65" r="1.65" fill="#f00"/>
<circle cx="606.05" cy="492.27" r="1.65" fill="#f00"/>
<circle cx="610.22" cy="491.89" r="1.65" fill="#f00"/>
<circle cx="614.40" cy="491.51" r="1.65" fill="#f00"/>
<line x1="499.4" y1="520.4" x2="536.8" y2="520.4" stroke="#000" stroke-width="1.2"/>
<circle cx="517.9" cy="520.4" r="1.75" fill="#000"/>
<text x="540.2" y="526.25" font-family='"Liberation Sans", sans-serif' font-size="16.2" fill="#000">No strain</text>
<line x1="499.4" y1="540.1" x2="536.8" y2="540.1" stroke="#f00" stroke-width="1.2"/>
<circle cx="517.9" cy="540.1" r="1.75" fill="#f00"/>
<text x="540.2" y="545.85" font-family='"Liberation Sans", sans-serif' font-size="16.2" fill="#000">0.25% strain</text>
<path d="M431.06,436.1v5M431.06,552.3v-5M514.40,436.1v5M514.40,552.3v-5M597.74,436.1v5M597.74,552.3v-5M472.73,436.1v3M472.73,552.3v-3M556.07,436.1v3M556.07,552.3v-3M389.4,530.40h5M639.4,530.40h-5M389.4,501.00h5M639.4,501.00h-5M389.4,471.60h5M639.4,471.60h-5M389.4,442.20h5M639.4,442.20h-5M389.4,545.10h3M639.4,545.10h-3M389.4,515.70h3M639.4,515.70h-3M389.4,486.30h3M639.4,486.30h-3M389.4,456.90h3M639.4,456.90h-3" stroke="#000" stroke-width="1.4" fill="none"/>
<rect x="389.4" y="436.1" width="250.0" height="116.2" fill="none" stroke="#000" stroke-width="1.6"/>
<text x="431.06" y="571.0" text-anchor="middle" font-family='"Liberation Sans", sans-serif' font-size="16">-0.2</text>
<text x="514.40" y="571.0" text-anchor="middle" font-family='"Liberation Sans", sans-serif' font-size="16">0.0</text>
<text x="597.74" y="571.0" text-anchor="middle" font-family='"Liberation Sans", sans-serif' font-size="16">0.2</text>
<text x="382.6" y="535.90" text-anchor="end" font-family='"Liberation Sans", sans-serif' font-size="16">-91</text>
<text x="382.6" y="506.50" text-anchor="end" font-family='"Liberation Sans", sans-serif' font-size="16">0</text>
<text x="382.6" y="477.10" text-anchor="end" font-family='"Liberation Sans", sans-serif' font-size="16">91</text>
<text x="382.6" y="447.70" text-anchor="end" font-family='"Liberation Sans", sans-serif' font-size="16">182</text>
<text transform="translate(343.3,491.0) rotate(-90)" text-anchor="middle" font-family='"Liberation Sans", sans-serif' font-size="16.2">Voltage / mV</text>
</svg>
</body></html>
